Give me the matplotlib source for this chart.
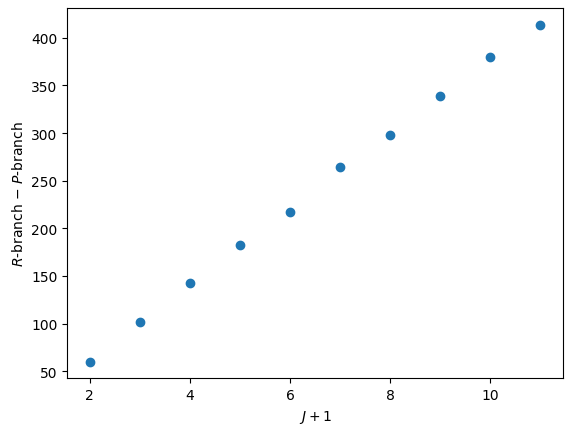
import matplotlib
matplotlib.use("Agg")
import matplotlib.pyplot as plt

j_plus_1 = [2, 3, 4, 5, 6, 7, 8, 9, 10, 11]
diff = [60.2, 101.8, 142.6, 182.8, 217.5, 264.7, 297.9, 338.8, 379.7, 413.3]

fig = plt.figure(figsize=(5.72, 4.35), dpi=100)
ax = fig.add_axes([0.1175, 0.128, 0.8665, 0.8506])
ax.plot(j_plus_1, diff, 'o', color='#1f77b4')
ax.set_xlabel(r'$J+1$')
ax.set_ylabel(r'$R$-branch $-$ $P$-branch')
fig.savefig('out.png', dpi=100)
